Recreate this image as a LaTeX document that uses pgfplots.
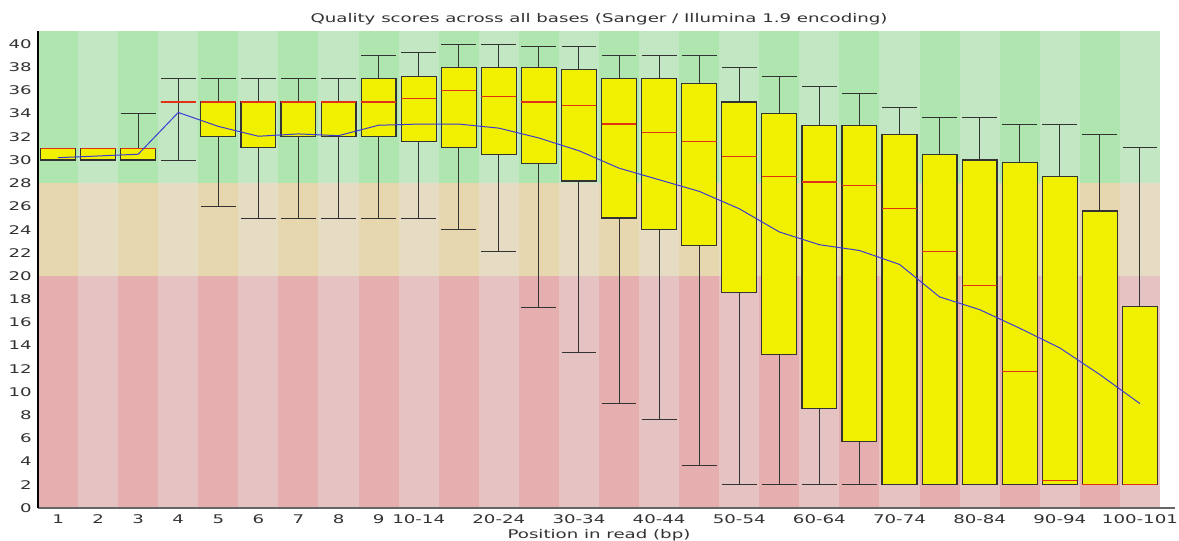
\documentclass[border=0pt]{standalone}
\usepackage{fontspec}
\setmainfont{DejaVu Sans}[FakeStretch=1.52]
\usepackage{pgfplots}
\pgfplotsset{compat=1.18}
\usepgfplotslibrary{statistics}
\definecolor{goodDark}{RGB}{175,230,175}
\definecolor{goodLight}{RGB}{195,230,195}
\definecolor{okDark}{RGB}{230,215,175}
\definecolor{okLight}{RGB}{230,220,195}
\definecolor{badDark}{RGB}{230,175,175}
\definecolor{badLight}{RGB}{230,195,195}
\definecolor{boxyellow}{RGB}{240,240,0}
\definecolor{medred}{RGB}{225,50,20}
\definecolor{meanblue}{RGB}{60,60,210}
\definecolor{txt}{RGB}{50,50,50}
\pgfplotsset{mybox/.style={draw=black!80, fill=boxyellow, line width=1.2bp, solid}}
\newcommand{\qbox}[6]{\addplot[mybox, boxplot prepared={draw position=#1, lower whisker=#2, lower quartile=#3, median=#4, upper quartile=#5, upper whisker=#6}] coordinates {};}
\begin{document}
\begin{tikzpicture}
\useasboundingbox (0,0) rectangle (1179bp,541bp);
\begin{axis}[
  at={(38bp,33bp)}, anchor=south west,
  scale only axis, width=1122bp, height=477.3bp,
  xmin=0.5, xmax=28.5, ymin=0, ymax=41.15,
  axis on top, clip=false,
  axis x line*=bottom, axis y line*=left,
  x axis line style={draw=black!60, line width=1.6bp},
  y axis line style={draw=black, line width=1.4bp},
  major tick length=0pt,
  ytick={0,2,...,40},
  xtick={1,2,3,4,5,6,7,8,9,10,12,14,16,18,20,22,24,26,28},
  xticklabels={1,2,3,4,5,6,7,8,9,10-14,20-24,30-34,40-44,50-54,60-64,70-74,80-84,90-94,100-101},
  /pgf/number format/assume math mode=true,
  tick label style={font=\fontsize{12}{14}\selectfont, text=txt},
  xticklabel style={anchor=base, yshift=-15bp, inner sep=0pt},
  yticklabel style={anchor=east, xshift=-6bp, inner sep=0pt},
  boxplot/draw direction=y,
  boxplot/box extend=0.87,
  boxplot/whisker extend=0.87,
  boxplot/every whisker/.style={draw=black!80, line width=1bp},
  boxplot/every median/.style={draw=medred, line width=1.2bp},
]
\pgfplotsinvokeforeach{1,3,...,27}{
  \fill[badDark] (axis cs:#1-0.5,0) rectangle (axis cs:#1+0.5,20);
  \fill[okDark] (axis cs:#1-0.5,20) rectangle (axis cs:#1+0.5,28);
  \fill[goodDark] (axis cs:#1-0.5,28) rectangle (axis cs:#1+0.5,41.15);
}
\pgfplotsinvokeforeach{2,4,...,28}{
  \fill[badLight] (axis cs:#1-0.5,0) rectangle (axis cs:#1+0.5,20);
  \fill[okLight] (axis cs:#1-0.5,20) rectangle (axis cs:#1+0.5,28);
  \fill[goodLight] (axis cs:#1-0.5,28) rectangle (axis cs:#1+0.5,41.15);
}
\qbox{1}{30}{30}{31}{31}{31}
\qbox{2}{30}{30}{31}{31}{31}
\qbox{3}{30}{30}{31}{31}{34}
\addplot[mybox, draw=none, fill=none, boxplot prepared={draw position=4, lower whisker=30, lower quartile=35, median=35, upper quartile=35, upper whisker=37}] coordinates {};
\qbox{5}{26}{32}{35}{35}{37}
\qbox{6}{25}{31.1}{35}{35}{37}
\qbox{7}{25}{32}{35}{35}{37}
\qbox{8}{25}{32}{35}{35}{37}
\qbox{9}{25}{32}{35}{37}{39}
\qbox{10}{25}{31.6}{35.3}{37.2}{39.3}
\qbox{11}{24}{31.1}{36}{38}{40}
\qbox{12}{22.1}{30.5}{35.5}{38}{40}
\qbox{13}{17.3}{29.7}{35}{38}{39.8}
\qbox{14}{13.4}{28.2}{34.7}{37.8}{39.8}
\qbox{15}{9.0}{25}{33.1}{37}{39}
\qbox{16}{7.6}{24}{32.4}{37}{39}
\qbox{17}{3.7}{22.6}{31.6}{36.6}{39}
\qbox{18}{2}{18.6}{30.3}{35}{38}
\qbox{19}{2}{13.2}{28.6}{34}{37.2}
\qbox{20}{2}{8.6}{28.1}{33}{36.3}
\qbox{21}{2}{5.7}{27.8}{33}{35.7}
\qbox{22}{2}{2}{25.8}{32.2}{34.5}
\qbox{23}{2}{2}{22.1}{30.5}{33.7}
\qbox{24}{2}{2}{19.2}{30}{33.7}
\qbox{25}{2}{2}{11.8}{29.8}{33.1}
\qbox{26}{2}{2}{2.4}{28.6}{33.1}
\qbox{27}{2}{2}{2}{25.6}{32.2}
\qbox{28}{2}{2}{2}{17.4}{31.1}
\addplot[meanblue, line width=1bp] coordinates {
(1,30.2) (2,30.35) (3,30.5) (4,34.1) (5,32.9) (6,32.05) (7,32.25) (8,32.1)
(9,33.0) (10,33.1) (11,33.1) (12,32.75) (13,31.9) (14,30.8) (15,29.3) (16,28.3)
(17,27.3) (18,25.8) (19,23.8) (20,22.7) (21,22.2) (22,21.0) (23,18.2) (24,17.1)
(25,15.5) (26,13.8) (27,11.5) (28,9.0)};
\draw[black!60, line width=1.6bp] (axis cs:28.5,0) -- (axis cs:28.88,0);
\node[anchor=base, font=\fontsize{12}{14}\selectfont, text=txt] at (rel axis cs:0.5,1) [yshift=8.5bp] {Quality scores across all bases (Sanger / Illumina 1.9 encoding)};
\node[anchor=base, font=\fontsize{12}{14}\selectfont, text=txt] at (rel axis cs:0.5,0) [yshift=-30.5bp] {Position in read (bp)};
\end{axis}
\end{tikzpicture}
\end{document}
